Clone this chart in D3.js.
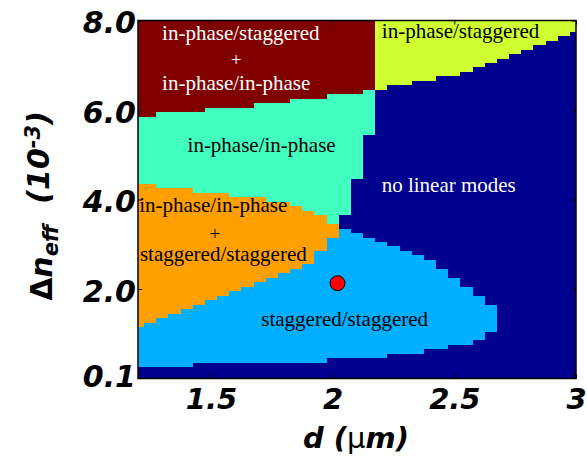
<!DOCTYPE html>
<html>
<head>
<meta charset="utf-8">
<script src="https://cdn.jsdelivr.net/npm/d3@7/dist/d3.min.js"></script>
<style>
    body { margin: 0; background: #fff; }
    .axis-num { font-family: "DejaVu Sans", sans-serif; font-weight: bold; font-style: italic; fill: #000; }
    .mode-label { font-family: "Liberation Serif", "Times New Roman", serif; font-size: 21px; }
</style>
</head>
<body>
<svg id="chart" width="587" height="459"></svg>
<script>
// grid columns of the mode map, d in um (cells are centred on these values)
const dCenters = [1.20, 1.25, 1.30, 1.35, 1.40, 1.45, 1.50, 1.55, 1.60, 1.65,
    1.70, 1.75, 1.80, 1.85, 1.90, 1.95, 2.00, 2.05, 2.10, 2.15,
    2.20, 2.25, 2.30, 2.35, 2.40, 2.45, 2.50, 2.55, 2.60, 2.65,
    2.70, 2.75, 2.80, 2.85, 2.90, 2.95, 3.00];

// region boundaries per column, delta n_eff in 1e-3 (null = region absent)
const stagLo = [0.25, 0.25, 0.25, 0.25, 0.25, 0.35, 0.35, 0.35, 0.35, 0.35,
    0.35, 0.35, 0.35, 0.35, 0.35, 0.35, 0.45, 0.45, 0.45, 0.45,
    0.45, 0.55, 0.55, 0.55, 0.65, 0.65, 0.75, 0.75, 0.85, 1.05,
    null, null, null, null, null, null, null];
const stagHi = [1.15, 1.25, 1.35, 1.45, 1.55, 1.65, 1.75, 1.85, 1.95, 2.05,
    2.15, 2.25, 2.35, 2.45, 2.55, 2.85, 3.15, 3.35, 3.25, 3.15,
    3.05, 2.95, 2.85, 2.75, 2.65, 2.45, 2.25, 2.05, 1.85, 1.65,
    null, null, null, null, null, null, null];
const mixHi = [4.35, 4.35, 4.25, 4.25, 4.25, 4.15, 4.15, 4.15, 4.05, 4.05,
    4.05, 3.95, 3.95, 3.85, 3.75, 3.65, 3.45, null, null, null,
    null, null, null, null, null, null, null, null, null, null,
    null, null, null, null, null, null, null];
const inPhaseLo = [4.35, 4.35, 4.25, 4.25, 4.25, 4.15, 4.15, 4.15, 4.05, 4.05,
    4.05, 3.95, 3.95, 3.85, 3.75, 3.65, 3.45, 3.65, 4.45, 5.45,
    null, null, null, null, null, null, null, null, null, null,
    null, null, null, null, null, null, null];
const inPhaseHi = [5.85, 5.85, 5.95, 5.95, 5.95, 5.95, 6.05, 6.05, 6.05, 6.05,
    6.15, 6.15, 6.15, 6.25, 6.25, 6.25, 6.35, 6.35, 6.35, 6.45,
    null, null, null, null, null, null, null, null, null, null,
    null, null, null, null, null, null, null];
const inStagLo = [null, null, null, null, null, null, null, null, null, null,
    null, null, null, null, null, null, null, null, null, null,
    6.45, 6.55, 6.55, 6.65, 6.65, 6.75, 6.75, 6.85, 6.95, 7.05,
    7.15, 7.25, 7.35, 7.45, 7.55, 7.65, 7.75];

// operating point
const pointD = [2.02];
const pointN = [2.13];

const xTicks = [1.5, 2, 2.5, 3];
const yTicks = [0.1, 2.0, 4.0, 6.0, 8.0];

const labelTexts = ["in-phase/staggered", "+", "in-phase/in-phase",
    "in-phase/in-phase", "in-phase/staggered", "no linear modes",
    "in-phase/in-phase", "+", "staggered/staggered", "staggered/staggered"];

let svg = d3.select('#chart');
let plot = {left: 138, right: 576, top: 20.5, bottom: 378.5};

let xScale = d3.scaleLinear().domain([1.2, 3.0]).range([plot.left, plot.right]);
let yScale = d3.scaleLinear().domain([0, 8]).range([plot.bottom, plot.top]);
let cellHalf = 0.025;

svg.append("defs").append("clipPath").attr("id", "plotClip")
    .append("rect")
    .attr("x", plot.left).attr("y", plot.top)
    .attr("width", plot.right - plot.left).attr("height", plot.bottom - plot.top);

let map = svg.append("g").attr("clip-path", "url(#plotClip)");

// background = "no linear modes"
map.append("rect")
    .attr("x", plot.left).attr("y", plot.top)
    .attr("width", plot.right - plot.left).attr("height", plot.bottom - plot.top)
    .style("fill", "#00008f");

let regions = [
    {lo: stagLo, hi: stagHi, color: "#00afff"},
    {lo: stagHi, hi: mixHi, color: "#ff9f00"},
    {lo: inPhaseLo, hi: inPhaseHi, color: "#40ffbf"},
    {lo: inPhaseHi, hi: null, color: "#800000"},
    {lo: inStagLo, hi: null, color: "#cfff30"}
];

let cells = [];
regions.forEach(function (r) {
    dCenters.forEach(function (d, i) {
        let lo = r.lo[i];
        let hi = r.hi ? r.hi[i] : 8.1;
        if (lo === null || hi === null) return;
        cells.push({d: d, lo: lo, hi: hi, color: r.color});
    });
});

map.selectAll("rect.cell")
    .data(cells)
    .enter()
    .append("rect")
    .classed("cell", true)
    .attr("x", d => xScale(Math.max(d.d - cellHalf, 1.2)))
    .attr("width", d => xScale(Math.min(d.d + cellHalf, 3.0)) - xScale(Math.max(d.d - cellHalf, 1.2)))
    .attr("y", d => yScale(d.hi))
    .attr("height", d => yScale(d.lo) - yScale(d.hi))
    .attr("shape-rendering", "crispEdges")
    .style("fill", d => d.color);

// region labels
let labelPos = [
    {d: 1.299, n: 7.57, anchor: "start", fill: "#fff"},
    {d: 1.603, n: 6.98, anchor: "middle", fill: "#fff"},
    {d: 1.299, n: 6.44, anchor: "start", fill: "#fff"},
    {d: 1.708, n: 5.07, anchor: "middle", fill: "#000"},
    {d: 2.202, n: 7.60, anchor: "start", fill: "#000"},
    {d: 2.477, n: 4.17, anchor: "middle", fill: "#fff"},
    {d: 1.205, n: 3.73, anchor: "start", fill: "#000"},
    {d: 1.516, n: 3.10, anchor: "middle", fill: "#000"},
    {d: 1.208, n: 2.62, anchor: "start", fill: "#000"},
    {d: 2.392, n: 1.17, anchor: "end", fill: "#000"}
];
svg.selectAll("text.mode-label")
    .data(labelTexts)
    .enter()
    .append("text")
    .classed("mode-label", true)
    .attr("x", (t, i) => xScale(labelPos[i].d))
    .attr("y", (t, i) => yScale(labelPos[i].n))
    .attr("text-anchor", (t, i) => labelPos[i].anchor)
    .style("fill", (t, i) => labelPos[i].fill)
    .style("font-size", t => t === "+" ? "19px" : null)
    .text(t => t);

// red marker
svg.selectAll("circle.pt")
    .data(pointD)
    .enter()
    .append("circle")
    .attr("cx", d => xScale(d))
    .attr("cy", (d, i) => yScale(pointN[i]))
    .attr("r", 7.5)
    .style("fill", "#ff0000")
    .style("stroke", "#000")
    .style("stroke-width", 1);

// axes with inward ticks on all four sides
let xAxis = d3.axisBottom(xScale).tickValues(xTicks).tickSize(-4).tickPadding(10).tickFormat(d3.format("~g"));
let yAxis = d3.axisLeft(yScale).tickValues(yTicks).tickSize(-4).tickPadding(2).tickFormat(d3.format(".1f"));

let gx = svg.append("g").attr("transform", "translate(0," + plot.bottom + ")").call(xAxis);
let gy = svg.append("g").attr("transform", "translate(" + plot.left + ",0)").call(yAxis);
svg.append("g").attr("transform", "translate(0," + plot.top + ")")
    .call(d3.axisTop(xScale).tickValues(xTicks).tickSize(-4).tickFormat(""));
svg.append("g").attr("transform", "translate(" + plot.right + ",0)")
    .call(d3.axisRight(yScale).tickValues(yTicks).tickSize(-4).tickFormat(""));

svg.selectAll(".domain").remove();
svg.selectAll(".tick line").style("stroke", "#000");

gx.selectAll("text").attr("class", "axis-num").style("font-size", "29px");
gy.selectAll("text").attr("class", "axis-num").style("font-size", "30px").attr("dy", "0.4em");

// frame
svg.append("rect")
    .attr("x", plot.left).attr("y", plot.top)
    .attr("width", plot.right - plot.left).attr("height", plot.bottom - plot.top)
    .style("fill", "none").style("stroke", "#000").style("stroke-width", 1.5);

// x title
let xt = svg.append("text").classed("axis-num", true)
    .attr("x", 356).attr("y", 448).attr("text-anchor", "middle")
    .style("font-size", "29px");
xt.append("tspan").text("d (");
xt.append("tspan").style("font-weight", "normal").style("font-style", "normal").text("\u03bc");
xt.append("tspan").text("m)");

// y title
let yt = svg.append("text").classed("axis-num", true)
    .attr("transform", "translate(52,206) rotate(-90)")
    .attr("text-anchor", "middle")
    .style("font-size", "30px");
yt.append("tspan").style("font-style", "normal").text("\u0394");
yt.append("tspan").text("n");
yt.append("tspan").attr("dy", "0.3em").style("font-size", "21px").text("eff");
yt.append("tspan").attr("dy", "-0.3em").text("\u00a0 (10");
yt.append("tspan").attr("dy", "-0.45em").style("font-size", "21px").text("-3");
yt.append("tspan").attr("dy", "0.3em").text(")");
</script>
</body>
</html>
